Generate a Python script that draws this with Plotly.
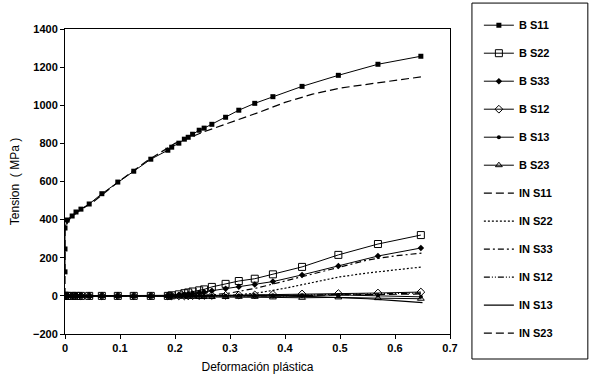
import plotly.graph_objects as go

# ---- data ----
x_B = [0, 0, 0, 0.004, 0.013, 0.02, 0.029, 0.044, 0.067, 0.096, 0.125, 0.156, 0.187, 0.194,
       0.207, 0.217, 0.224, 0.232, 0.244, 0.253, 0.267, 0.292, 0.316, 0.345, 0.378, 0.431,
       0.497, 0.569, 0.647]
B_S11 = [126, 246, 356, 398, 419, 440, 455, 482, 536, 597, 654, 717, 764, 780, 801, 822, 832,
         848, 869, 880, 900, 937, 974, 1010, 1045, 1099, 1157, 1215, 1257]
B_S22 = [0, 0, 0, 0, 0, 0, 0, 0, 0, 0, 0, 0, 0, 3, 8, 14, 18, 23, 29, 34, 47, 63, 78, 90,
         113, 152, 215, 272, 319]
B_S33 = [0, 0, 0, 0, 0, 0, 0, 0, 0, 0, 0, 0, 0, 2, 4, 7, 9, 12, 16, 20, 27, 38, 48, 60, 75,
         110, 157, 209, 251]
B_S12 = [0, 0, 0, 0, 0, 0, 0, 0, 0, 0, 0, 0, 0, 0, 0, 0, 0, 1, 1, 2, 2, 3, 4, 5, 8, 10, 12,
         15, 20]
B_S13 = [0, 0, 0, 0, 0, 0, 0, 0, 0, 0, 0, 0, 0, 0, 0, 0, 0, 0, 0, 0, 1, 1, 2, 2, 3, 3, 5, 2,
         -5]
B_S23 = [0, 0, 0, 0, 0, 0, 0, 0, 0, 0, 0, 0, 0, -2, -3, -4, -5, -5, -6, -6, -6, -6, -5, -5,
         -8, -10, -8, -12, -15]

x_IN = [0, 0, 0.01, 0.03, 0.05, 0.1, 0.15, 0.2, 0.25, 0.3, 0.35, 0.4, 0.45, 0.5, 0.55, 0.6,
        0.65]
IN_S11 = [0, 360, 410, 455, 490, 605, 710, 800, 858, 908, 960, 1015, 1058, 1090, 1110, 1130,
          1150]
IN_S22 = [0, 0, 0, 0, 0, 0, 0, 0, 0, 2, 15, 40, 70, 100, 120, 137, 152]
IN_S33 = [0, 0, 0, 0, 0, 0, 0, 0, 0, 15, 42, 78, 115, 155, 188, 210, 225]
IN_S12 = [0, 0, 0, 0, 0, 0, 0, 0, 0, 0, 0, 0, 5, 8, 10, 12, 15]
IN_S13 = [0, 0, 0, 0, 0, 0, 0, 0, 0, 0, 0, -2, -4, -8, -15, -25, -35]
IN_S23 = [0, 0, 0, 0, 0, 0, 0, 0, 0, 0, 0, 2, 3, 5, 7, 8, 10]

x_ticks = [0, 0.1, 0.2, 0.3, 0.4, 0.5, 0.6, 0.7]
x_tick_labels = ["0", "0.1", "0.2", "0.3", "0.4", "0.5", "0.6", "0.7"]
y_ticks = [-200, 0, 200, 400, 600, 800, 1000, 1200, 1400]

FONT = "Arial, Liberation Sans, sans-serif"

fig = go.Figure()

B_series = [
    ("B S11", B_S11, dict(symbol="square", size=5, color="black")),
    ("B S22", B_S22, dict(symbol="square-open", size=7, color="black", line=dict(width=1))),
    ("B S33", B_S33, dict(symbol="diamond", size=5, color="black")),
    ("B S12", B_S12, dict(symbol="diamond-open", size=6, color="black", line=dict(width=1))),
    ("B S13", B_S13, dict(symbol="circle", size=4, color="black")),
    ("B S23", B_S23, dict(symbol="triangle-up-open", size=6, color="black", line=dict(width=1))),
]
for i, (name, ys, mk) in enumerate(B_series):
    fig.add_trace(go.Scatter(x=x_B, y=ys, name=name, mode="lines+markers",
                             line=dict(color="black", width=1), marker=mk,
                             legendgroup=f"g{i}"))

IN_series = [
    ("IN S11", IN_S11, "8px,4px"),
    ("IN S22", IN_S22, "2px,2px"),
    ("IN S33", IN_S33, "6px,3px,2px,3px"),
    ("IN S12", IN_S12, "6px,2px,1px,2px,1px,2px"),
    ("IN S13", IN_S13, "solid"),
    ("IN S23", IN_S23, "8px,4px"),
]
for i, (name, ys, dash) in enumerate(IN_series):
    fig.add_trace(go.Scatter(x=x_IN, y=ys, name=name, mode="lines",
                             line=dict(color="black", width=1.2, dash=dash),
                             legendgroup=f"h{i}"))

axis_common = dict(showline=True, linecolor="black", linewidth=1, mirror=True,
                   ticks="outside", ticklen=4, tickcolor="black", showgrid=False,
                   zeroline=False,
                   tickfont=dict(family=FONT, size=11, color="black", weight="bold"))

fig.update_xaxes(range=[0, 0.7], tickvals=x_ticks, ticktext=x_tick_labels,
                 title=dict(text="Deformación plástica",
                            font=dict(family=FONT, size=12, color="black"), standoff=9),
                 **axis_common)
fig.update_yaxes(range=[-200, 1400], tickvals=y_ticks,
                 title=dict(text="Tension  ( MPa )",
                            font=dict(family=FONT, size=12, color="black"), standoff=10),
                 **axis_common)

# legend frame drawn as a shape (paper coordinates)
fig.add_shape(type="rect", xref="paper", yref="paper",
              x0=1.057, x1=1.358, y0=-0.082, y1=1.085,
              line=dict(color="black", width=1), fillcolor="rgba(0,0,0,0)", layer="above")

fig.update_layout(
    width=590, height=384,
    margin=dict(l=65, r=140, t=29, b=50, autoexpand=False),
    paper_bgcolor="white", plot_bgcolor="white",
    font=dict(family=FONT, color="black"),
    showlegend=True,
    legend=dict(x=1.075, xanchor="left", y=1.060, yanchor="top",
                borderwidth=0, bgcolor="rgba(0,0,0,0)",
                font=dict(family=FONT, size=11, color="black", weight="bold"),
                tracegroupgap=9, traceorder="grouped", entrywidth=72,
                maxheight=380),
)

fig.write_html("out.html", config={"displayModeBar": False},
               post_script="document.body.style.margin='0';document.body.style.overflow='hidden';")
